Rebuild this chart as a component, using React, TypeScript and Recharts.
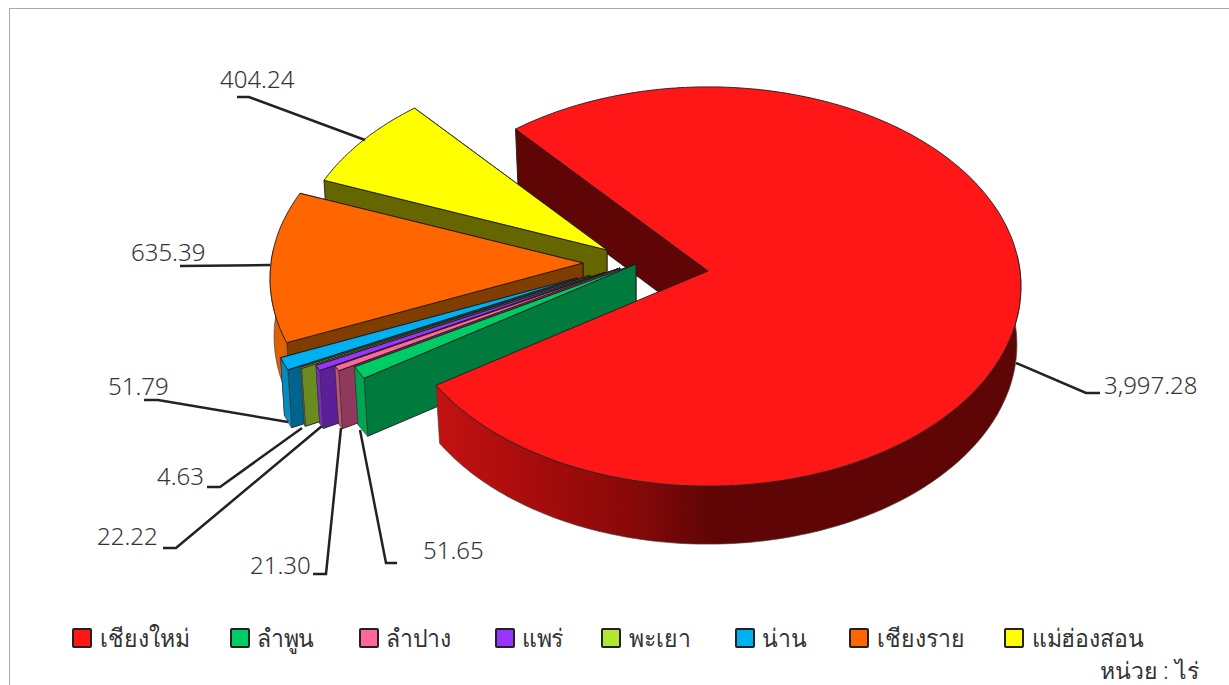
import { PieChart, Pie, Legend } from 'recharts';

const categories = ['เชียงใหม่', 'ลำพูน', 'ลำปาง', 'แพร่', 'พะเยา', 'น่าน', 'เชียงราย', 'แม่ฮ่องสอน'];
const areaValues = [3997.28, 51.65, 21.3, 22.22, 4.63, 51.79, 635.39, 404.24];

const TOP_COLORS = ['#FF1717', '#00CC66', '#FF6699', '#9933FF', '#B3E633', '#00B0F0', '#FF6600', '#FFFF00'];
const RIM_COLORS = ['url(#redRim)', '#00A552', '#CC527A', '#7A29CC', '#8FB829', '#008DC0', '#E26000', '#CCCC00'];
const CUT_COLORS = ['#5F0505', '#007A3D', '#8F3A5C', '#5C1F99', '#6B8A1F', '#00648F', '#7F3D00', '#666600'];

// where each wedge was dragged to, relative to the pie centre
const OFFSET_X = [0, -72, -88, -103.5, -118, -131, -125, -101];
const OFFSET_Y = [0, -7, -3, 1.5, 4.5, 7, -8, -21];

// leader line: anchor, elbow, tail end
const LEADERS = [
  [[1016, 363], [1086, 393], [1100, 393]],
  [[360, 430], [386, 563], [397, 563]],
  [[341, 428], [326, 574], [313, 574]],
  [[322, 426], [176, 548], [163, 548]],
  [[302, 428], [220, 487], [207, 487]],
  [[288, 422], [158, 400], [144, 400]],
  [[270, 265], [180, 266], [180, 266]],
  [[365, 140], [249, 97], [237, 97]],
];
const LABEL_X = [1104, 423, 250, 97, 157, 108, 131, 220];
const LABEL_Y = [394, 559, 574, 545, 485, 395, 261, 88];

const LEGEND_SWATCH_X = [72, 230, 359, 495, 601, 735, 849, 1004];
const LEGEND_TEXT_X = [100, 257, 386, 522, 629, 762, 877, 1032];

const FONT = '"Noto Sans", "Open Sans", sans-serif';
const TILT = 0.636;
const PERSPECTIVE = 0.0777 / 312;
const DEPTH = 58;
const BOTTOM_SHRINK = 0.987;
const START_ANGLE = 130.8;

// draw from the back wedge to the front one, so the list runs in reverse
const pieData = categories.map((name, i) => ({ name, value: areaValues[i], idx: i })).reverse();

function project(cx: number, cy: number, deg: number, r: number, bottom: boolean) {
  const a = (deg * Math.PI) / 180;
  const X = r * Math.cos(a);
  const Y = -r * Math.sin(a);
  const s = 1 / (1 - PERSPECTIVE * Y);
  return [cx + X * s * (bottom ? BOTTOM_SHRINK : 1), cy + TILT * Y * s + (bottom ? DEPTH : 0)];
}

const toPath = (pts: number[][]) => 'M' + pts.map((p) => `${p[0].toFixed(1)},${p[1].toFixed(1)}`).join('L') + 'Z';

function arcAngles(start: number, end: number) {
  const out: number[] = [];
  for (let a = start; a < end; a += 1) out.push(a);
  out.push(end);
  return out;
}

function cutWall(cx: number, cy: number, deg: number, r: number) {
  return toPath([
    [cx, cy],
    project(cx, cy, deg, r, false),
    project(cx, cy, deg, r, true),
    [cx, cy + DEPTH],
  ]);
}

const EDGE = { stroke: '#1c1c1c', strokeWidth: 0.9, strokeLinejoin: 'round' as const };

function BackWall(props: any) {
  const { cx, cy, endAngle, outerRadius, payload } = props;
  if (payload.idx !== 0) return <g />;
  return <path d={cutWall(cx, cy, endAngle, outerRadius)} fill={CUT_COLORS[0]} {...EDGE} />;
}

function Wedge3D(props: any) {
  const { cx, cy, startAngle, endAngle, outerRadius, payload } = props;
  const i = payload.idx;
  const ox = cx + OFFSET_X[i];
  const oy = cy + OFFSET_Y[i];
  const angles = arcAngles(startAngle, endAngle);
  const front = angles.filter((a) => Math.sin((a * Math.PI) / 180) < 0.08);
  const top = [[ox, oy], ...angles.map((a) => project(ox, oy, a, outerRadius, false))];
  const rim = [
    ...front.map((a) => project(ox, oy, a, outerRadius, false)),
    ...[...front].reverse().map((a) => project(ox, oy, a, outerRadius, true)),
  ];
  return (
    <g>
      {i !== 0 && <path d={cutWall(ox, oy, startAngle, outerRadius)} fill={CUT_COLORS[i]} {...EDGE} />}
      {i !== 0 && <path d={cutWall(ox, oy, endAngle, outerRadius)} fill={CUT_COLORS[i]} {...EDGE} />}
      {front.length > 1 && <path d={toPath(rim)} fill={RIM_COLORS[i]} stroke="#444444" strokeWidth={0.7} />}
      <path d={toPath(top)} fill={TOP_COLORS[i]} {...EDGE} />
    </g>
  );
}

function renderLeader(props: any) {
  const i = props.payload.idx;
  const pts = LEADERS[i].map((p) => p.join(',')).join(' ');
  const text = areaValues[i].toLocaleString('en-US', { minimumFractionDigits: 2, maximumFractionDigits: 2 });
  return (
    <g>
      <polyline points={pts} fill="none" stroke="#222222" strokeWidth={2.5} />
      <text x={LABEL_X[i]} y={LABEL_Y[i]} fontSize={24} fontFamily={FONT} fontWeight={300} fill="#333333">
        {text}
      </text>
    </g>
  );
}

const NARROW = { transform: 'scaleX(0.92)', transformOrigin: 'left center' };

function LegendRow() {
  return (
    <div style={{ position: 'absolute', left: 0, top: 0, width: 1229, height: 685, fontFamily: FONT, fontWeight: 300, color: '#333333' }}>
      {categories.map((name, i) => (
        <div key={name}>
          <div
            style={{
              position: 'absolute',
              left: LEGEND_SWATCH_X[i],
              top: 628,
              width: 16,
              height: 16,
              background: TOP_COLORS[i],
              border: '2px solid #222222',
              borderRadius: 2,
            }}
          />
          <div style={{ position: 'absolute', left: LEGEND_TEXT_X[i], top: 621, fontSize: 25, whiteSpace: 'nowrap', lineHeight: '32px', ...NARROW }}>
            {name}
          </div>
        </div>
      ))}
      <div style={{ position: 'absolute', left: 1100, top: 655, fontSize: 23, whiteSpace: 'pre', lineHeight: '30px' }}>
        หน่วย : ไร่
      </div>
    </div>
  );
}

export default function App() {
  return (
    <div style={{ position: 'absolute', left: 0, top: 0, width: 1229, height: 685, overflow: 'hidden', background: '#FFFFFF' }}>
      <div style={{ position: 'absolute', left: 9, top: 8, width: 1240, height: 700, border: '1px solid #AAAAAA' }} />
      <PieChart width={1229} height={685} margin={{ top: 0, right: 0, bottom: 0, left: 0 }}>
        <defs>
          <linearGradient id="redRim" gradientUnits="userSpaceOnUse" x1={437} y1={0} x2={1020} y2={0}>
            <stop offset="0" stopColor="#C41212" />
            <stop offset="0.16" stopColor="#A80C0C" />
            <stop offset="0.33" stopColor="#8A0909" />
            <stop offset="0.47" stopColor="#600505" />
            <stop offset="1" stopColor="#5E0505" />
          </linearGradient>
        </defs>
        <Pie
          data={pieData}
          dataKey="value"
          nameKey="name"
          cx={708}
          cy={271}
          outerRadius={312}
          startAngle={START_ANGLE}
          endAngle={START_ANGLE + 360}
          shape={BackWall}
          stroke="none"
          isAnimationActive={false}
        />
        <Pie
          data={pieData}
          dataKey="value"
          nameKey="name"
          cx={708}
          cy={271}
          outerRadius={312}
          startAngle={START_ANGLE}
          endAngle={START_ANGLE + 360}
          shape={Wedge3D}
          label={renderLeader}
          labelLine={false}
          isAnimationActive={false}
        />
        <Legend content={<LegendRow />} wrapperStyle={{ position: 'absolute', left: 0, top: 0, width: 1229, height: 0 }} />
      </PieChart>
    </div>
  );
}
